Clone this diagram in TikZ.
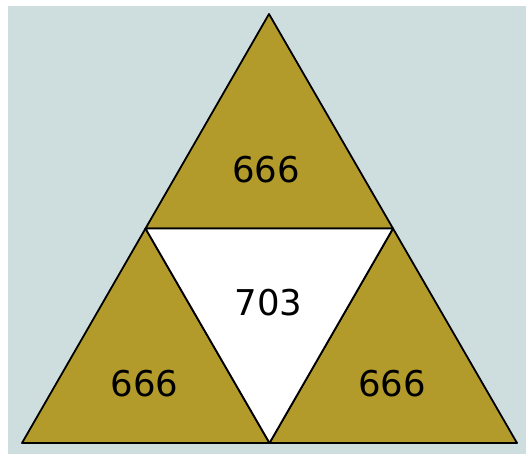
\documentclass[tikz,border=0pt]{standalone}
\usepackage{fontspec}
\setmainfont{DejaVu Sans}
\usepackage{xcolor}
\usetikzlibrary{calc}

\definecolor{paneback}{HTML}{CEDEDF}
\definecolor{tilegold}{HTML}{B39B2B}

\begin{document}
\begin{tikzpicture}[
  x=1pt, y=-1pt,
  tile/.style={draw=black, line width=1.8pt, line join=round, fill=tilegold},
  hole/.style={draw=black, line width=1.8pt, line join=round, fill=white},
  count/.style={inner sep=0pt, font=\fontsize{35.5}{40}\selectfont},
]
\useasboundingbox (0,0) rectangle (526,454);
\fill[white] (0,0) rectangle (526,454);
\fill[paneback] (8,6) rectangle (526,454);

% corners of the big triangle
\coordinate (top) at (269,14);
\coordinate (left) at (22,443);
\coordinate (right) at (517,443);
% midpoints of its sides
\coordinate (ml) at ($(top)!0.5!(left)$);
\coordinate (mr) at ($(top)!0.5!(right)$);
\coordinate (mb) at ($(left)!0.5!(right)$);

% the four small triangles
\draw[tile] (top) -- (ml) -- (mr) -- cycle;
\draw[tile] (ml) -- (left) -- (mb) -- cycle;
\draw[tile] (mr) -- (mb) -- (right) -- cycle;
\draw[hole] (ml) -- (mr) -- (mb) -- cycle;

% numbers
\node[count] (ctop) at (266,170) {666};
\node[count] (cmid) at (268.5,302.5) {703};
\node[count] (cleft) at (144.5,384) {666};
\node[count] (cright) at (392,384) {666};
\end{tikzpicture}
\end{document}
